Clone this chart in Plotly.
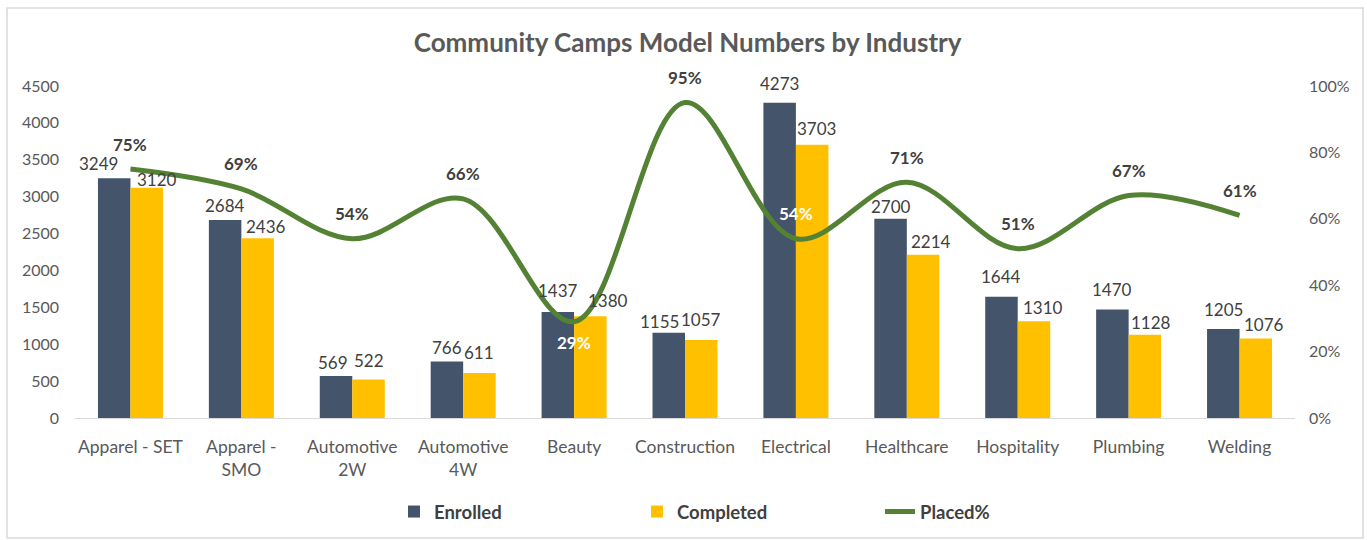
import plotly.graph_objects as go

categories = ["Apparel - SET", "Apparel -<br>SMO", "Automotive<br>2W", "Automotive<br>4W",
              "Beauty", "Construction", "Electrical", "Healthcare", "Hospitality",
              "Plumbing", "Welding"]
enrolled = [3249, 2684, 569, 766, 1437, 1155, 4273, 2700, 1644, 1470, 1205]
completed = [3120, 2436, 522, 611, 1380, 1057, 3703, 2214, 1310, 1128, 1076]
placed_pct = [75, 69, 54, 66, 29, 95, 54, 71, 51, 67, 61]

left_ticks = [0, 500, 1000, 1500, 2000, 2500, 3000, 3500, 4000, 4500]
right_ticks = [0, 0.2, 0.4, 0.6, 0.8, 1.0]
right_tick_labels = ["0%", "20%", "40%", "60%", "80%", "100%"]

# label placement styling (pixel nudges, as in the reference)
enr_dx = [-16, 0, -3, 0, 0, -9, 0, 0, 0, 0, 0]
enr_dy = [15, 14, 14, 14, 21, 11, 19, 12, 20, 20, 20]
com_dx = [10, 8, 0, 0, 18, 0, 4, 8, 9, 6, 8]
com_dy = [8, 12, 19, 20, 16, 21, 16, 13, 14, 12, 14]

FONT = "Lato"
NAVY = "#44546A"
GOLD = "#FFC000"
GREEN = "#548235"
TXT = "#404040"
AX = "#595959"
BARGAP = 0.414
half = (1 - BARGAP) / 4  # offset of each bar centre from category centre

placed = [p / 100 for p in placed_pct]

fig = go.Figure()
fig.add_trace(go.Bar(x=categories, y=enrolled, name="<b>Enrolled</b>", marker_color=NAVY,
                     marker_line_width=0))
fig.add_trace(go.Bar(x=categories, y=completed, name="<b>Completed</b>", marker_color=GOLD,
                     marker_line_width=0))
fig.add_trace(go.Scatter(x=categories, y=placed, name="<b>Placed%</b>", yaxis="y2", mode="lines",
                         line=dict(color=GREEN, width=5, shape="spline", smoothing=1.0)))

annotations = []
for i, v in enumerate(enrolled):
    annotations.append(dict(x=i - half, y=v, xref="x", yref="y", text=str(v), showarrow=False,
                            xanchor="center", yanchor="middle", xshift=enr_dx[i], yshift=enr_dy[i],
                            font=dict(size=17, color=TXT, family=FONT)))
for i, v in enumerate(completed):
    annotations.append(dict(x=i + half, y=v, xref="x", yref="y", text=str(v), showarrow=False,
                            xanchor="center", yanchor="middle", xshift=com_dx[i], yshift=com_dy[i],
                            font=dict(size=17, color=TXT, family=FONT)))
for i, p in enumerate(placed_pct):
    below = i == 4
    white = i in (4, 6)
    annotations.append(dict(x=i, y=placed[i], xref="x", yref="y2", text=f"<b>{p}%</b>",
                            showarrow=False, xanchor="center", yanchor="middle",
                            yshift=-21 if below else 25,
                            font=dict(size=17, color="white" if white else TXT, family=FONT)))

fig.update_layout(
    width=1367, height=540,
    margin=dict(l=75, r=72, t=86, b=122, autoexpand=False),
    paper_bgcolor="white", plot_bgcolor="white",
    font=dict(family=FONT, size=16, color=AX),
    title=dict(text="<b>Community Camps Model Numbers by Industry</b>",
               x=0.503, xanchor="center", y=1 - 43 / 540, yanchor="middle",
               font=dict(size=26, color=AX, family=FONT)),
    barmode="group", bargap=BARGAP, bargroupgap=0,
    xaxis=dict(showline=True, linecolor="#D9D9D9", linewidth=1, ticks="", automargin=False,
               ticklabelstandoff=13, tickfont=dict(size=17.5, color=AX, family=FONT)),
    yaxis=dict(range=[0, 4500], tickvals=left_ticks, showgrid=False, zeroline=False,
               showline=False, automargin=False, ticklabelstandoff=15,
               tickfont=dict(size=16, color=AX, family=FONT)),
    yaxis2=dict(range=[0, 1], tickvals=right_ticks, ticktext=right_tick_labels,
                overlaying="y", side="right", showgrid=False, zeroline=False, automargin=False,
                ticklabelstandoff=13, tickfont=dict(size=16, color=AX, family=FONT)),
    legend=dict(orientation="h", x=(394 - 75) / 1220, xanchor="left",
                y=(418 - 512) / 332, yanchor="middle",
                entrywidth=198, entrywidthmode="pixels", bgcolor="rgba(0,0,0,0)",
                font=dict(size=18.5, color=TXT, family=FONT)),
    showlegend=True,
    annotations=annotations,
    shapes=[dict(type="rect", xref="paper", yref="paper",
                 x0=(7 - 75) / 1220, x1=(1363 - 75) / 1220,
                 y0=(418 - 538) / 332, y1=(418 - 8) / 332,
                 line=dict(color="#D9D9D9", width=1.5), fillcolor="rgba(0,0,0,0)", layer="below")],
)

fig.write_html("out.html", config={"displayModeBar": False},
               post_script="document.body.style.margin='0px';")
